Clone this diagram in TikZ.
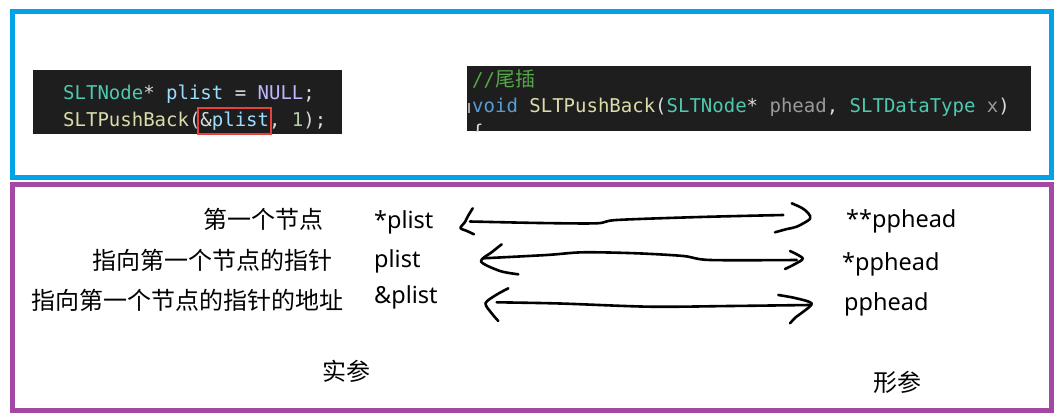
\documentclass[tikz,border=0pt]{standalone}
\usepackage{fontspec}
\newfontfamily\codefont{DejaVu Sans Mono}
\newfontfamily\cjk{Noto Sans CJK SC}
\newfontfamily\lab{Noto Sans}
\definecolor{frameblue}{HTML}{00A2E8}
\definecolor{framepurple}{HTML}{A349A4}
\definecolor{codebg}{HTML}{1E1E1E}
\definecolor{ctype}{HTML}{4EC9B0}
\definecolor{cvar}{HTML}{9CDCFE}
\definecolor{cmacro}{HTML}{BEB7FF}
\definecolor{cfunc}{HTML}{DCDCAA}
\definecolor{cnum}{HTML}{B5CEA8}
\definecolor{cplain}{HTML}{DCDCDC}
\definecolor{cparam}{HTML}{9A9A9A}
\definecolor{ckw}{HTML}{569CD6}
\definecolor{ccomment}{HTML}{57A64A}
\definecolor{cred}{HTML}{E8403A}
\tikzset{
  frame/.style={line width=5pt},
  codeline/.style={anchor=base west,inner sep=0pt,font=\codefont\fontsize{19}{19}\selectfont,text=cplain},
  cnlabel/.style={anchor=east,inner sep=0pt,font=\cjk\fontsize{24}{24}\selectfont},
  cncenter/.style={inner sep=0pt,font=\cjk\fontsize{24}{24}\selectfont},
  varlabel/.style={anchor=base west,inner sep=0pt,font=\lab\fontsize{23.5}{24}\selectfont},
  hand/.style={line width=2.6pt,line cap=round,line join=round},
}
\begin{document}
\begin{tikzpicture}[x=1pt,y=-1pt]
\useasboundingbox (0,0) rectangle (1059,417);
\fill[white] (0,0) rectangle (1059,417);
% frames
\draw[frame,frameblue] (12.5,11.5) rectangle (1051.5,177.5);
\draw[frame,framepurple] (12.5,184) rectangle (1051.5,410.5);
% code box 1
\fill[codebg] (33,70) rectangle (342,134);
\node[codeline] (c1) at (63,100) {{\color{ctype}SLTNode}* {\color{cvar}plist} = {\color{cmacro}NULL};};
\node[codeline] (c2) at (63,126) {{\color{cfunc}SLTPushBack}(\&{\color{cvar}plist}, {\color{cnum}1});};
\draw[cred,line width=2pt] (198,108) rectangle (271,133.5);
% code box 2
\fill[codebg] (467,66) rectangle (1031,131);
\begin{scope}
\clip (467,66) rectangle (1031,131);
\node[codeline,text=ccomment] (d1) at (472,87) {//{\cjk\fontsize{20}{20}\selectfont 尾插}};
\node[codeline] (d2) at (472,113) {{\color{ckw}void} {\color{cfunc}SLTPushBack}({\color{ctype}SLTNode}* {\color{cparam}phead}, {\color{ctype}SLTDataType} {\color{cparam}x})};
\node[codeline] (d3) at (472,139) {\{};
\end{scope}
\fill[cplain!70!codebg] (468,103) rectangle (470,113);
% left labels
\node[cnlabel] (l1) at (324,219) {第一个节点};
\node[cnlabel] (l2) at (333,260) {指向第一个节点的指针};
\node[cnlabel] (l3) at (344,300) {指向第一个节点的指针的地址};
\node[varlabel] (v1) at (374,228) {*plist};
\node[varlabel] (v2) at (374,267) {plist};
\node[varlabel] (v3) at (374,303) {\&plist};
% right labels
\node[varlabel] (p1) at (846,227) {**pphead};
\node[varlabel] (p2) at (842,270) {*pphead};
\node[varlabel] (p3) at (844,310) {pphead};
\node[cncenter] (s1) at (346,371) {实参};
\node[cncenter] (s2) at (897,382) {形参};
% hand-drawn arrows row 1
\draw[hand] plot[smooth] coordinates {(472.7,208.3) (468,216) (465,222) (460.5,228) (467,231) (474,234.3)};
\draw[hand] plot[smooth] coordinates {(470,221.5) (540,223) (596.7,223.3) (616.7,220) (700,217) (783.3,215)};
\draw[hand] plot[smooth] coordinates {(791.7,203.3) (802,208) (808.3,213.3) (810,219) (796.7,226.7) (787,229) (775,232.3)};
% row 2
\draw[hand] plot[smooth] coordinates {(501.7,244.3) (492,252) (481,261.5) (500,271) (518.3,274.3)};
\draw[hand] plot[smooth] coordinates {(483.3,258.3) (546.7,255) (583.3,252.3) (636.7,253.3) (683.3,256) (710,260) (796.7,260)};
\draw[hand] plot[smooth] coordinates {(790,251) (802.7,258.3) (795,264) (785,269)};
% row 3
\draw[hand] plot[smooth] coordinates {(508.3,288.3) (496,295) (485.5,303.3) (491.7,313.3) (498.3,321)};
\draw[hand] plot[smooth] coordinates {(496.7,302.3) (560,303.5) (650,306.7) (730,306) (810,305)};
\draw[hand] plot[smooth] coordinates {(778.3,295) (795,298) (811.7,303.3) (803.3,311.7) (796,317) (790,323.3)};
\end{tikzpicture}
\end{document}
